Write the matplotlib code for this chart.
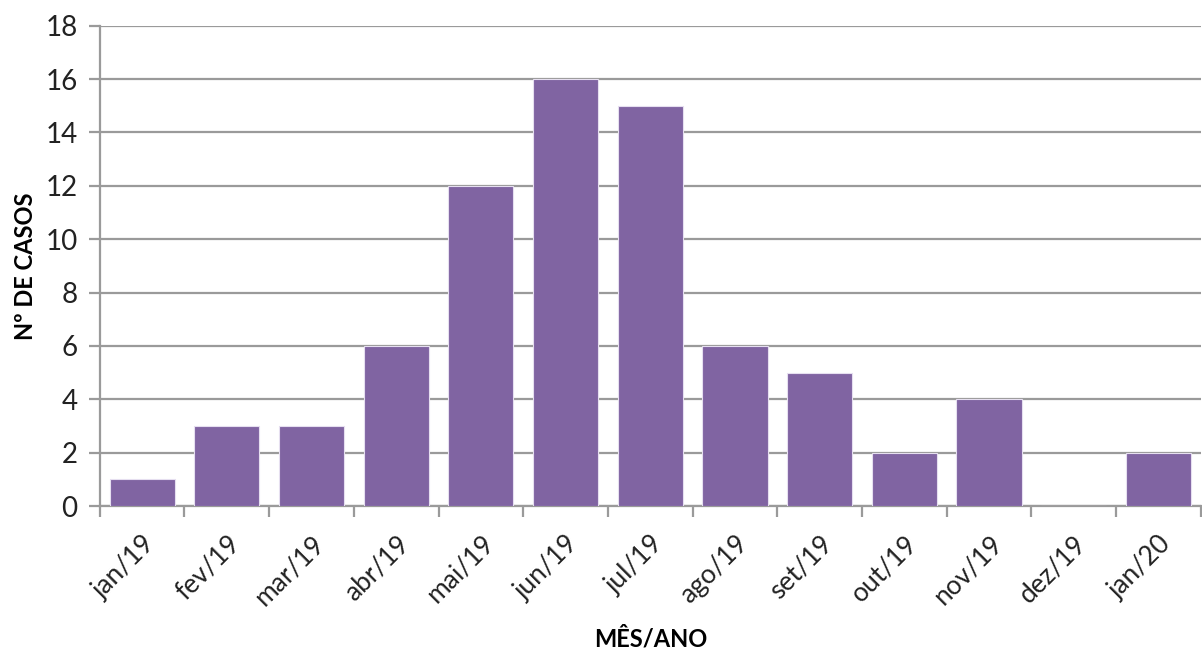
import matplotlib.pyplot as plt
import numpy as np

# Monthly case counts
meses = ['jan/19', 'fev/19', 'mar/19', 'abr/19', 'mai/19', 'jun/19', 'jul/19',
         'ago/19', 'set/19', 'out/19', 'nov/19', 'dez/19', 'jan/20']
casos = [1, 3, 3, 6, 12, 16, 15, 6, 5, 2, 4, 0, 2]

plt.rcParams['font.family'] = ['Lato', 'DejaVu Sans']

fig = plt.figure(figsize=(12.02, 6.59), dpi=100)
ax = fig.add_axes([0.083, 0.232, 0.916, 0.729])

x = np.arange(len(meses))
ax.bar(x, casos, width=0.77, color='#8064A2', edgecolor='#E6DFF0', linewidth=0.8, zorder=3)

ax.set_xlim(-0.5, len(meses) - 0.5)
ax.set_ylim(0, 18)
ax.set_yticks(range(0, 19, 2))
ax.yaxis.grid(True, color='#9A9A9A', linewidth=1.6, zorder=0)

# ticks sit between the categories
ax.set_xticks(x)
ax.set_xticklabels(meses, rotation=45, ha='right', rotation_mode='anchor', fontsize=19, color='#222222')
ax.set_xticks(np.arange(-0.5, len(meses)), minor=True)
ax.tick_params(axis='x', which='major', length=0, pad=18)
ax.tick_params(axis='x', which='minor', length=8, width=1.6, color='#9A9A9A')
ax.tick_params(axis='y', length=8, width=1.6, color='#9A9A9A', labelsize=20, labelcolor='#222222', pad=8)

for side in ['top', 'right']:
    ax.spines[side].set_visible(False)
for side in ['left', 'bottom']:
    ax.spines[side].set_color('#9A9A9A')
    ax.spines[side].set_linewidth(1.6)

ax.set_ylabel('Nº DE CASOS', fontsize=17, fontweight='bold', labelpad=6)
ax.set_xlabel('MÊS/ANO', fontsize=17, fontweight='bold', labelpad=12)

plt.savefig('out.png', dpi=100)
